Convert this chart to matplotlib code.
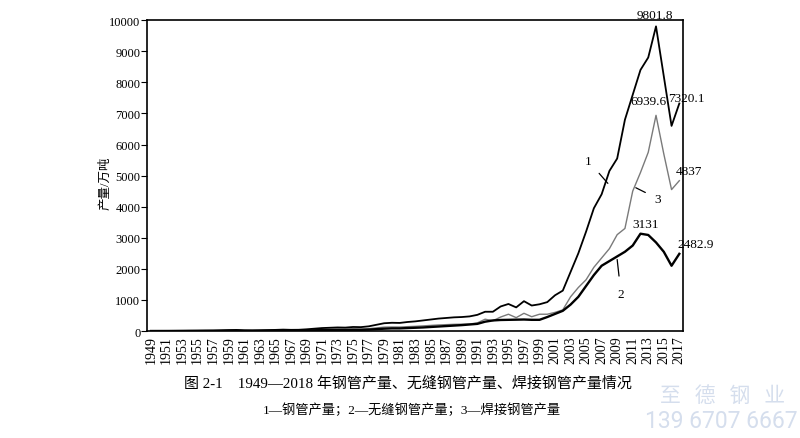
import matplotlib
matplotlib.use("Agg")
import matplotlib.pyplot as plt
import numpy as np

years = list(range(1949, 2018))

total = [1, 2, 3, 5, 7, 9, 11, 14, 16, 22, 30, 35, 22, 20, 24, 30, 36, 45, 38, 40,
         55, 75, 95, 105, 115, 110, 130, 125, 150, 200, 250, 265, 260, 290, 310, 340,
         370, 400, 420, 440, 450, 470, 520, 620, 620, 790, 870, 760, 960, 820, 860,
         930, 1150, 1300, 1900, 2500, 3200, 3950, 4400, 5150, 5550, 6800, 7600, 8400,
         8800, 9801.8, 8200, 6600, 7320.1]

seamless = [0.3, 0.6, 1, 1.5, 2, 3, 3.5, 4.5, 5, 7, 9, 11, 7, 6, 7, 9, 11, 14, 12, 12,
            17, 23, 30, 33, 36, 35, 40, 38, 45, 60, 75, 85, 85, 95, 105, 115,
            130, 145, 160, 175, 190, 210, 230, 300, 340, 355, 360, 365, 370, 360, 360,
            450, 550, 650, 850, 1100, 1450, 1800, 2100, 2250, 2400, 2550, 2750, 3131,
            3090, 2850, 2550, 2100, 2482.9]

welded = [0.5, 1, 1.5, 2.5, 3.5, 4.5, 5.5, 7, 8, 11, 15, 17, 11, 10, 12, 15, 18, 22, 19, 20,
          27, 37, 47, 52, 57, 55, 65, 62, 75, 100, 125, 130, 128, 140, 150, 165,
          180, 195, 205, 215, 220, 225, 260, 380, 330, 450, 540, 430, 570, 460, 540,
          540, 600, 680, 1100, 1400, 1650, 2050, 2350, 2650, 3100, 3300, 4500, 5100,
          5750, 6939.6, 5700, 4550, 4837]

tick_years = list(range(1949, 2018, 2))
y_ticks = list(range(0, 10001, 1000))

value_labels = [("9801.8", 2013.8, 10170), ("6939.6", 2013.0, 7390),
                ("7320.1", 2017.9, 7490), ("4837", 2018.3, 5140),
                ("3131", 2012.7, 3430), ("2482.9", 2019.1, 2790)]

serif = ['Liberation Serif', 'Noto Sans CJK SC', 'DejaVu Sans']
cjk = ['Liberation Serif', 'Noto Sans CJK SC', 'DejaVu Sans']

fig = plt.figure(figsize=(8.0, 4.39), dpi=100)
ax = fig.add_axes([0.184, 0.2437, 0.670, 0.708])

ax.plot(years, welded, color='#7a7a7a', lw=1.0, zorder=2)
ax.plot(years, total, color='black', lw=1.3, zorder=3)
ax.plot(years, seamless, color='black', lw=1.7, zorder=3)

ax.set_xlim(1948.5, 2017.5)
ax.set_ylim(0, 10000)
ax.set_xticks(tick_years)
ax.set_xticklabels([str(y) for y in tick_years], rotation=90, family=serif, fontsize=10)
ax.set_yticks(y_ticks)
ax.set_yticklabels([str(v) for v in y_ticks], family=serif, fontsize=9)
ax.tick_params(axis='x', length=0, pad=3)
ax.tick_params(axis='y', length=4, width=0.8, pad=1, direction='out')
for s in ax.spines.values():
    s.set_linewidth(1.2)

ax.set_ylabel("产量/万吨", family=cjk, fontsize=9)
ax.yaxis.set_label_coords(-0.066, 0.48)

for txt, x, y in value_labels:
    ax.text(x, y, txt, ha='center', va='center', family=serif, fontsize=9.5, clip_on=False)

# series markers with leader lines
ax.annotate("1", xy=(2007.8, 4750), xytext=(2005.3, 5470), family=serif, fontsize=9.5,
            ha='center', va='center',
            arrowprops=dict(arrowstyle='-', lw=0.9, color='black', shrinkA=5, shrinkB=0))
ax.annotate("3", xy=(2011.4, 4610), xytext=(2014.2, 4260), family=serif, fontsize=9.5,
            ha='center', va='center',
            arrowprops=dict(arrowstyle='-', lw=0.9, color='black', shrinkA=5, shrinkB=0))
ax.annotate("2", xy=(2009.0, 2300), xytext=(2009.5, 1175), family=serif, fontsize=9.5,
            ha='center', va='center',
            arrowprops=dict(arrowstyle='-', lw=0.9, color='black', shrinkA=7, shrinkB=0))

fig.text(0.51, 1 - 383 / 439, "图 2-1    1949—2018 年钢管产量、无缝钢管产量、焊接钢管产量情况",
         ha='center', va='center', family=cjk, fontsize=10.8)
fig.text(0.515, 1 - 410 / 439, "1—钢管产量；2—无缝钢管产量；3—焊接钢管产量",
         ha='center', va='center', family=cjk, fontsize=9.5)

fig.text(0.903, 1 - 396 / 439, "至   德   钢   业", ha='center', va='center',
         family=['Noto Sans CJK SC'], fontsize=15, color='#d5deed')
fig.text(0.997, 1 - 422 / 439, "139 6707 6667", ha='right', va='center',
         family=['Roboto', 'DejaVu Sans'], fontsize=16.5, color='#d5deed')

fig.savefig("out.png", dpi=100)
